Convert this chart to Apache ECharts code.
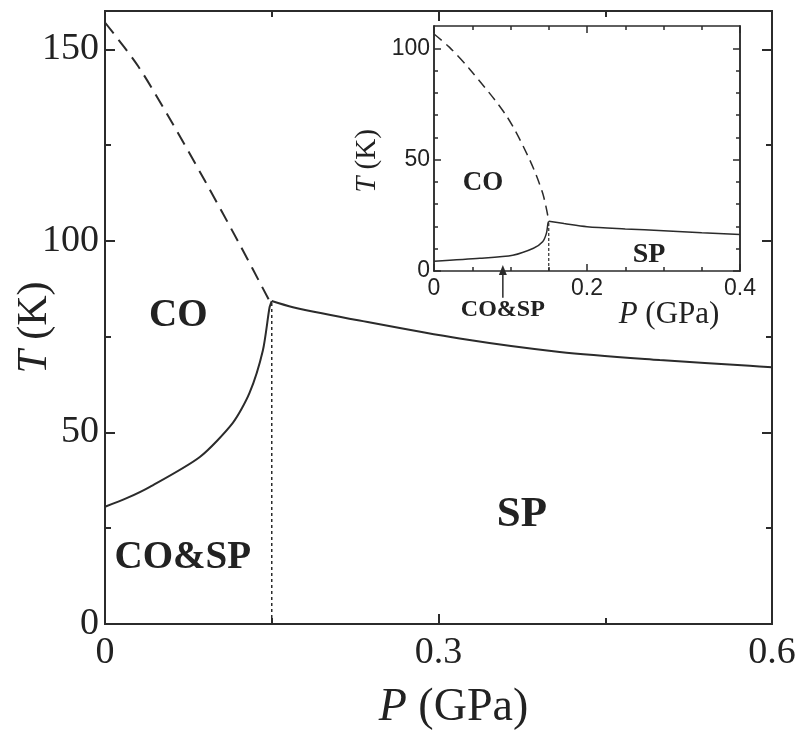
<!DOCTYPE html>
<html>
<head>
<meta charset="utf-8">
<script src="https://cdn.jsdelivr.net/npm/echarts@6/dist/echarts.min.js"></script>
<style>
  html, body { margin: 0; padding: 0; background: #fff; }
  #chart { width: 805px; height: 739px; }
</style>
</head>
<body>
<div id="chart"></div>
<script>
// main panel: T-P phase diagram
var mainDashP = [0, 0.03, 0.06, 0.09, 0.12, 0.148]
var mainDashT = [157, 145.5, 131, 115.6, 99.7, 84.3]
var mainLowP = [0, 0.02, 0.0404, 0.0853, 0.115, 0.13, 0.142, 0.148, 0.15]
var mainLowT = [30.6, 32.9, 35.8, 43.6, 52.5, 60.3, 71.4, 82.6, 84.3]
var mainSpP = [0.15, 0.169, 0.229, 0.319, 0.409, 0.499, 0.58, 0.6]
var mainSpT = [84.3, 82.7, 79.2, 74.5, 71.0, 68.9, 67.4, 67.0]
var mainBoundP = 0.15
var mainBoundT = 84.3
var mainXTicks = [0, 0.3, 0.6]
var mainYMajor = [0, 50, 100, 150]
var mainYMinor = [25, 75, 125]

// inset
var insDashP = [0, 0.02, 0.0467, 0.0948, 0.125, 0.142, 0.149]
var insDashT = [106.4, 100.5, 90.6, 69.6, 50, 35, 24.4]
var insLowP = [0, 0.06, 0.103, 0.13, 0.142, 0.147, 0.149, 0.15]
var insLowT = [4.4, 5.7, 7.1, 10.2, 13.1, 17, 21.5, 22.3]
var insSpP = [0.15, 0.17, 0.2, 0.25, 0.3, 0.35, 0.4]
var insSpT = [22.3, 21.3, 19.9, 18.9, 18.1, 17.2, 16.4]
var insBoundP = 0.15
var insBoundT = 22.3
var insArrowP = 0.09
var insYMajor = [0, 50, 100]
var insYMinor = [10, 20, 30, 40, 60, 70, 80, 90]

var mainLabels = [
    { name: 'CO', value: [0.066, 80.3], label: { fontSize: 39 } },
    { name: 'CO&SP', value: [0.07, 17.3], label: { fontSize: 39 } },
    { name: 'SP', value: [0.375, 28.6], label: { fontSize: 43 } }
]
var insLabels = [
    { name: 'CO', value: [0.064, 39.6], label: { fontSize: 27 } },
    { name: 'SP', value: [0.281, 7.5], label: { fontSize: 28 } }
]

function zip(xs, ys) {
    return xs.map(function (x, i) { return [x, ys[i]] })
}

var ink = '#2b2b2b'
var serif = 'Liberation Serif'
var sans = 'Liberation Sans'

function xAx(grid, pos, max, interval, split, w, len, mlen, label) {
    return {
        type: 'value', gridIndex: grid, position: pos, min: 0, max: max, interval: interval,
        nameMoveOverlap: false,
        axisLine: { show: true, onZero: false, lineStyle: { color: ink, width: w } },
        axisTick: { show: true, inside: true, length: len, lineStyle: { color: ink, width: w } },
        minorTick: { show: true, splitNumber: split, length: mlen, lineStyle: { color: ink, width: w } },
        splitLine: { show: false },
        axisLabel: label || { show: false }
    }
}
function yAx(grid, pos, max, ticks, w, len, label) {
    return {
        type: 'value', gridIndex: grid, position: pos, min: 0, max: max,
        nameMoveOverlap: false,
        axisLine: { show: true, onZero: false, lineStyle: { color: ink, width: w } },
        axisTick: { show: true, inside: true, length: len, customValues: ticks, lineStyle: { color: ink, width: w } },
        splitLine: { show: false },
        axisLabel: label || { show: false }
    }
}

var chart = echarts.init(document.getElementById('chart'))

var option = {
    animation: false,
    grid: [
        { left: 105, top: 11, width: 667, height: 613, outerBoundsMode: 'none', containLabel: false },
        { left: 434, top: 26, width: 306, height: 245, outerBoundsMode: 'none', containLabel: false,
          show: true, backgroundColor: '#fff', borderWidth: 0 }
    ],
    xAxis: [
        Object.assign(xAx(0, 'bottom', 0.6, 0.3, 2, 2, 10, 6, {
            show: true, color: '#222', fontFamily: serif, fontSize: 38, margin: 10,
            customValues: mainXTicks
        }), {
            name: '{i|P} (GPa)', nameLocation: 'middle', nameGap: 61,
            nameTextStyle: {
                color: '#222', padding: [0, 0, 0, 30],
                rich: {
                    i: { fontFamily: serif, fontSize: 46, fontStyle: 'italic', color: '#222' }
                },
                fontFamily: serif, fontSize: 46
            }
        }),
        xAx(0, 'top', 0.6, 0.3, 2, 2, 10, 6),
        Object.assign(xAx(1, 'bottom', 0.4, 0.2, 4, 1.5, 7, 4, {
            show: true, color: '#222', fontFamily: sans, fontSize: 23, margin: 6
        }), {
            name: '{i|P} (GPa)', nameLocation: 'middle', nameGap: 28,
            nameTextStyle: {
                color: '#222', padding: [0, 0, 0, 164],
                rich: {
                    i: { fontFamily: serif, fontSize: 31, fontStyle: 'italic', color: '#222' }
                },
                fontFamily: serif, fontSize: 31
            }
        }),
        xAx(1, 'top', 0.4, 0.2, 4, 1.5, 7, 4)
    ],
    yAxis: [
        Object.assign(yAx(0, 'left', 160, mainYMajor, 2, 10, {
            show: true, color: '#222', fontFamily: serif, fontSize: 38, margin: 6,
            customValues: mainYMajor
        }), {
            name: '{i|T} (K)', nameLocation: 'middle', nameGap: 49, nameRotate: 90,
            nameTextStyle: {
                color: '#222', padding: [0, 20, 0, 0],
                rich: {
                    i: { fontFamily: serif, fontSize: 42, fontStyle: 'italic', color: '#222' }
                },
                fontFamily: serif, fontSize: 42
            }
        }),
        yAx(0, 'left', 160, mainYMinor, 2, 6),
        yAx(0, 'right', 160, mainYMajor, 2, 10),
        yAx(0, 'right', 160, mainYMinor, 2, 6),
        Object.assign(yAx(1, 'left', 110, insYMajor, 1.5, 7, {
            show: true, color: '#222', fontFamily: sans, fontSize: 23, margin: 4,
            customValues: insYMajor
        }), {
            name: '{i|T} (K)', nameLocation: 'middle', nameGap: 52, nameRotate: 90,
            nameTextStyle: {
                color: '#222', padding: [0, 25, 0, 0],
                rich: {
                    i: { fontFamily: serif, fontSize: 29, fontStyle: 'italic', color: '#222' }
                },
                fontFamily: serif, fontSize: 29
            }
        }),
        yAx(1, 'left', 110, insYMinor, 1.5, 4),
        yAx(1, 'right', 110, insYMajor, 1.5, 7),
        yAx(1, 'right', 110, insYMinor, 1.5, 4)
    ],
    series: [
        {
            type: 'line', xAxisIndex: 0, yAxisIndex: 0, data: zip(mainDashP, mainDashT),
            smooth: 0.3, showSymbol: false, lineStyle: { color: ink, width: 2, type: [14, 8] }
        },
        {
            type: 'line', xAxisIndex: 0, yAxisIndex: 0, data: zip(mainLowP, mainLowT),
            smooth: 0.25, showSymbol: false, lineStyle: { color: ink, width: 2 }
        },
        {
            type: 'line', xAxisIndex: 0, yAxisIndex: 0, data: zip(mainSpP, mainSpT),
            smooth: 0.3, showSymbol: false, lineStyle: { color: ink, width: 2 }
        },
        {
            type: 'line', xAxisIndex: 0, yAxisIndex: 0, data: [[mainBoundP, 0], [mainBoundP, mainBoundT]],
            showSymbol: false, lineStyle: { color: ink, width: 1.5, type: [3, 3] }
        },
        {
            type: 'scatter', xAxisIndex: 0, yAxisIndex: 0, data: mainLabels, symbolSize: 0,
            itemStyle: { opacity: 1 },
            label: {
                show: true, position: 'inside', formatter: '{b}', color: '#222',
                fontFamily: serif, fontWeight: 'bold', fontSize: 39
            }
        },
        {
            type: 'line', xAxisIndex: 2, yAxisIndex: 4, data: zip(insDashP, insDashT),
            smooth: 0.3, showSymbol: false, lineStyle: { color: ink, width: 1.5, type: [10, 6] }
        },
        {
            type: 'line', xAxisIndex: 2, yAxisIndex: 4, data: zip(insLowP, insLowT),
            smooth: 0.25, showSymbol: false, lineStyle: { color: ink, width: 1.5 }
        },
        {
            type: 'line', xAxisIndex: 2, yAxisIndex: 4, data: zip(insSpP, insSpT),
            smooth: 0.3, showSymbol: false, lineStyle: { color: ink, width: 1.5 }
        },
        {
            type: 'line', xAxisIndex: 2, yAxisIndex: 4, data: [[insBoundP, 0], [insBoundP, insBoundT]],
            showSymbol: false, lineStyle: { color: ink, width: 1.2, type: [3, 2] }
        },
        {
            type: 'scatter', xAxisIndex: 2, yAxisIndex: 4, data: insLabels, symbolSize: 0,
            itemStyle: { opacity: 1 },
            label: {
                show: true, position: 'inside', formatter: '{b}', color: '#222',
                fontFamily: serif, fontWeight: 'bold', fontSize: 27
            }
        },
        {
            // arrow pointing to the CO&SP range on the inset axis
            type: 'line', xAxisIndex: 2, yAxisIndex: 4, clip: false, showSymbol: true,
            lineStyle: { color: ink, width: 1.5 }, itemStyle: { color: ink, opacity: 1 },
            data: [
                {
                    value: [insArrowP, -12], symbol: 'circle', symbolSize: 0,
                    label: {
                        show: true, position: 'bottom', distance: 0, formatter: 'CO&SP', color: '#222',
                        fontFamily: serif, fontWeight: 'bold', fontSize: 24
                    }
                },
                { value: [insArrowP, 0.5], symbol: 'triangle', symbolSize: [8, 10] }
            ]
        }
    ]
}

chart.setOption(option)
</script>
</body>
</html>
